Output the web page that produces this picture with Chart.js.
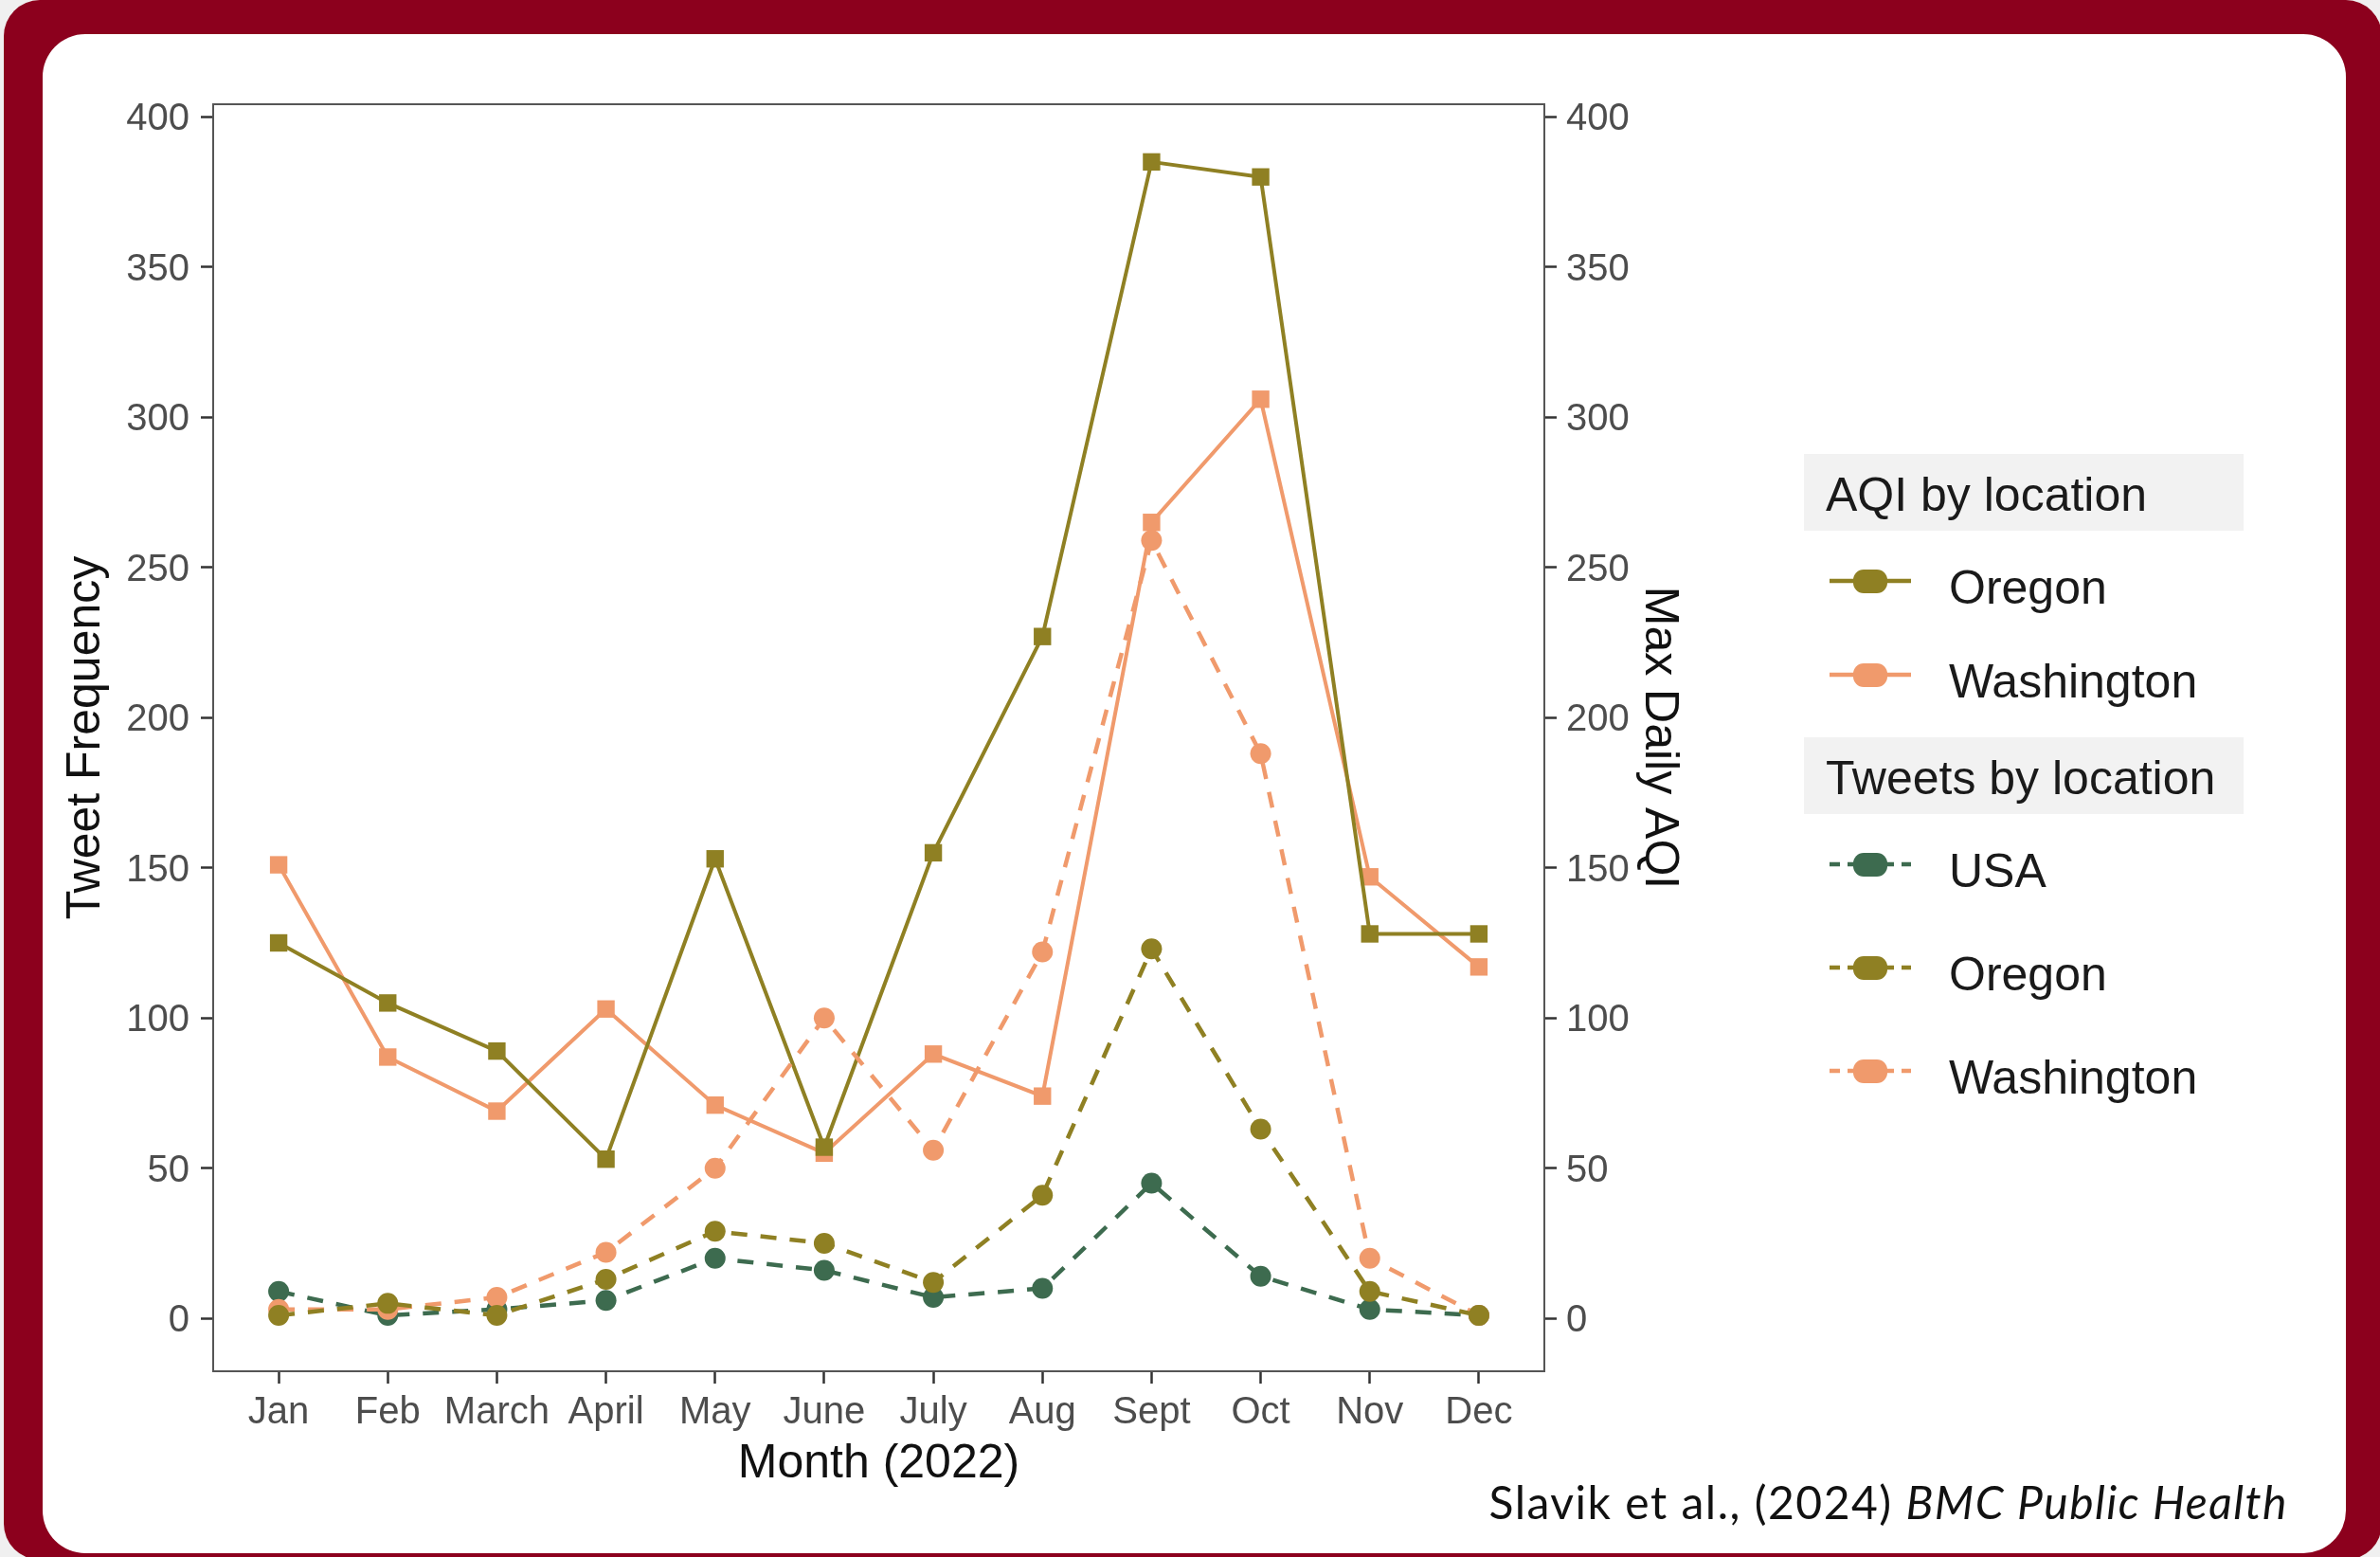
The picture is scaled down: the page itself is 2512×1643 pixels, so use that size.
<!DOCTYPE html>
<html>
<head>
<meta charset="utf-8">
<title>AQI and tweet frequency, 2022</title>
<script src="https://cdn.jsdelivr.net/npm/chart.js@4.4.1/dist/chart.umd.min.js"></script>
<style>
  html, body { margin: 0; padding: 0; background: #f0f0f0; width: 2512px; height: 1643px; overflow: hidden; }
  .frame { position: absolute; left: 4px; top: 0; width: 2510px; height: 1646px; background: #8c001d; border-radius: 38px; }
  .card { position: absolute; left: 45px; top: 36px; width: 2431px; height: 1603px; background: #ffffff; border-radius: 45px; }
  #chart { position: absolute; left: 0; top: 0; }
  .cite { position: absolute; right: 97px; top: 1556px; font-family: 'Lato', 'Noto Sans', sans-serif; font-size: 48px; letter-spacing: 1.5px; color: #111; white-space: nowrap; }
  .cite i { font-style: italic; }
</style>
</head>
<body>
<div class="frame"></div>
<div class="card"></div>
<canvas id="chart" width="2512" height="1643"></canvas>
<div class="cite">Slavik et al., (2024) <i>BMC Public Health</i></div>
<script>
// Months of 2022
const months = ['Jan', 'Feb', 'March', 'April', 'May', 'June', 'July', 'Aug', 'Sept', 'Oct', 'Nov', 'Dec'];

// Max daily AQI per month (right axis)
const aqiOregon     = [125, 105, 89, 53, 153, 57, 155, 227, 385, 380, 128, 128];
const aqiWashington = [151, 87, 69, 103, 71, 55, 88, 74, 265, 306, 147, 117];

// Monthly tweet counts (left axis)
const tweetsUSA        = [9, 1, 3, 6, 20, 16, 7, 10, 45, 14, 3, 1];
const tweetsOregon     = [1, 5, 1, 13, 29, 25, 12, 41, 123, 63, 9, 1];
const tweetsWashington = [3, 3, 7, 22, 50, 100, 56, 122, 259, 188, 20, 1];

// Axis tick values shared by both y axes
const yTicks = [0, 50, 100, 150, 200, 250, 300, 350, 400];

const OLIVE = '#8f8023';
const SALMON = '#f09a6c';
const GREEN = '#3d6b4f';
const DASH = [17, 14];

const toPoints = arr => arr.map((v, i) => ({ x: i, y: v }));

const aqiSet = (label, values, color, order) => ({
  label, data: toPoints(values), yAxisID: 'y1', order,
  borderColor: color, backgroundColor: color, borderWidth: 4,
  pointStyle: 'rect', pointRadius: 13, pointHoverRadius: 13, pointBorderWidth: 0,
  tension: 0, group: 'AQI by location'
});
const tweetSet = (label, values, color, order) => ({
  label, data: toPoints(values), yAxisID: 'y', order,
  borderColor: color, backgroundColor: color, borderWidth: 4.5, borderDash: DASH,
  pointStyle: 'circle', pointRadius: 11, pointHoverRadius: 11, pointBorderWidth: 0,
  tension: 0, group: 'Tweets by location'
});

const datasets = [
  aqiSet('Oregon', aqiOregon, OLIVE, 4),
  aqiSet('Washington', aqiWashington, SALMON, 5),
  tweetSet('USA', tweetsUSA, GREEN, 3),
  tweetSet('Oregon', tweetsOregon, OLIVE, 1),
  tweetSet('Washington', tweetsWashington, SALMON, 2)
];

const FONT = "'Liberation Sans', Arial, sans-serif";
const TICK_COLOR = '#4d4d4d';

const setYTicks = scale => { scale.ticks = yTicks.map(v => ({ value: v })); };

// Panel border on all four sides
const panelBorder = {
  id: 'panelBorder',
  afterDatasetsDraw(chart) {
    const { ctx, chartArea: a } = chart;
    ctx.save();
    ctx.strokeStyle = '#555555';
    ctx.lineWidth = 2;
    ctx.strokeRect(a.left, a.top, a.right - a.left, a.bottom - a.top);
    ctx.restore();
  }
};

// Two titled legend groups built from the datasets
const groupedLegend = {
  id: 'groupedLegend',
  afterDraw(chart) {
    const { ctx } = chart;
    const groups = [];
    chart.data.datasets.forEach(ds => {
      let g = groups.find(x => x.title === ds.group);
      if (!g) { g = { title: ds.group, items: [] }; groups.push(g); }
      g.items.push(ds);
    });
    const boxX = 1904, boxW = 464, boxH = 81;
    const starts = [479, 778];
    const itemStep = [99, 109];
    ctx.save();
    groups.forEach((g, gi) => {
      const top = starts[gi];
      ctx.fillStyle = '#f2f2f2';
      ctx.fillRect(boxX, top, boxW, boxH);
      ctx.fillStyle = '#1a1a1a';
      ctx.font = '50px ' + FONT;
      ctx.textBaseline = 'alphabetic';
      ctx.textAlign = 'left';
      ctx.fillText(g.title, 1927, top + 60);
      g.items.forEach((ds, ii) => {
        const cy = top + 134 + ii * itemStep[gi];
        ctx.strokeStyle = ds.borderColor;
        ctx.lineWidth = 4.5;
        ctx.setLineDash(ds.borderDash ? [11, 8] : []);
        ctx.beginPath();
        ctx.moveTo(1931, cy);
        ctx.lineTo(2017, cy);
        ctx.stroke();
        ctx.setLineDash([]);
        ctx.fillStyle = ds.backgroundColor;
        ctx.beginPath();
        ctx.roundRect(1956, cy - 12, 36, 25, 11);
        ctx.fill();
        ctx.fillStyle = '#1a1a1a';
        ctx.fillText(ds.label, 2057, cy + 24);
      });
    });
    ctx.restore();
  }
};

new Chart(document.getElementById('chart'), {
  type: 'line',
  data: { datasets },
  options: {
    responsive: false,
    animation: false,
    devicePixelRatio: 1,
    layout: { padding: { top: 110, left: 0, right: 722, bottom: 46 } },
    plugins: { legend: { display: false }, tooltip: { enabled: false } },
    scales: {
      x: {
        type: 'linear', position: 'bottom', min: -0.6, max: 11.6,
        afterBuildTicks: s => { s.ticks = months.map((m, i) => ({ value: i })); },
        afterFit: s => { s.height = 150; },
        grid: { drawOnChartArea: false, drawTicks: true, tickLength: 13, tickColor: '#333333', tickWidth: 2.5 },
        border: { display: true, color: '#555555', width: 2 },
        ticks: { autoSkip: false, maxRotation: 0, padding: 7, color: TICK_COLOR, font: { family: FONT, size: 40 },
                 callback: v => months[v] },
        title: { display: true, text: 'Month (2022)', color: '#111111', font: { family: FONT, size: 50 }, padding: { top: 0, bottom: 22 } }
      },
      y: {
        type: 'linear', position: 'left', min: -17.6, max: 404.2,
        afterBuildTicks: setYTicks,
        afterFit: s => { s.width = 225; },
        grid: { drawOnChartArea: false, drawTicks: true, tickLength: 13, tickColor: '#333333', tickWidth: 2.5 },
        border: { display: true, color: '#555555', width: 2 },
        ticks: { padding: 12, labelOffset: 3, color: TICK_COLOR, font: { family: FONT, size: 40 } },
        title: { display: true, text: 'Tweet Frequency', color: '#111111', font: { family: FONT, size: 50 }, padding: { top: 61, bottom: 0 } }
      },
      y1: {
        type: 'linear', position: 'right', min: -17.6, max: 404.2,
        afterBuildTicks: setYTicks,
        afterFit: s => { s.width = 160; },
        grid: { drawOnChartArea: false, drawTicks: true, tickLength: 13, tickColor: '#333333', tickWidth: 2.5 },
        border: { display: true, color: '#555555', width: 2 },
        ticks: { padding: 10, labelOffset: 3, color: TICK_COLOR, font: { family: FONT, size: 40 } },
        title: { display: true, text: 'Max Daily AQI', color: '#111111', font: { family: FONT, size: 50 }, padding: { top: 9, bottom: 0 } }
      }
    }
  },
  plugins: [panelBorder, groupedLegend]
});
</script>
</body>
</html>
